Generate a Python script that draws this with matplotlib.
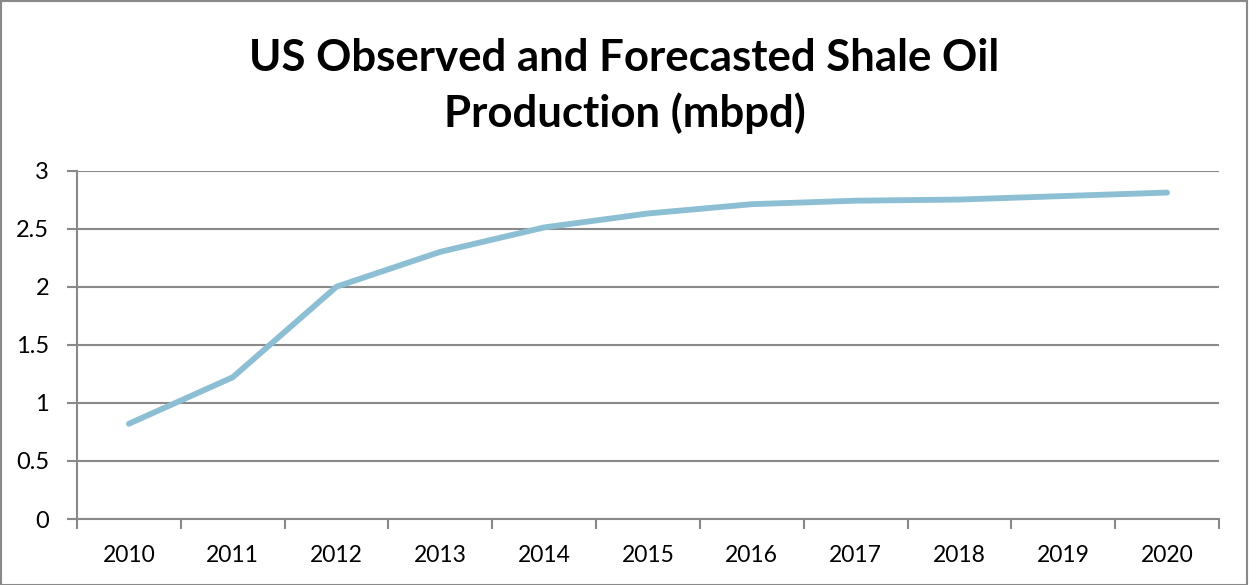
import matplotlib.pyplot as plt
from matplotlib.patches import Rectangle
from matplotlib.ticker import FixedLocator, NullFormatter

years = ["2010", "2011", "2012", "2013", "2014", "2015",
         "2016", "2017", "2018", "2019", "2020"]
production = [0.82, 1.22, 2.00, 2.30, 2.51, 2.63, 2.71, 2.74, 2.75, 2.78, 2.81]
y_ticks = [0, 0.5, 1, 1.5, 2, 2.5, 3]
y_labels = ["0", "0.5", "1", "1.5", "2", "2.5", "3"]

plt.rcParams["font.family"] = ["Lato", "DejaVu Sans"]
grey = "#898989"

fig = plt.figure(figsize=(12.49, 5.85), dpi=100)
ax = fig.add_axes([77 / 1249, 1 - 519 / 585, (1219 - 77) / 1249, (519 - 170.5) / 585])

x = list(range(len(years)))
ax.plot(x, production, color="#8CBFD3", linewidth=4.2,
        solid_capstyle="round", solid_joinstyle="round", zorder=3)

ax.set_xlim(-0.5, len(years) - 0.5)
ax.set_ylim(0, 3)

# category boundaries get the tick marks, labels sit in the middle
ax.xaxis.set_major_locator(FixedLocator([i - 0.5 for i in range(len(years) + 1)]))
ax.xaxis.set_major_formatter(NullFormatter())
ax.xaxis.set_minor_locator(FixedLocator(x))
ax.set_xticklabels(years, minor=True)
ax.tick_params(axis="x", which="major", length=7, width=1.5, color=grey, direction="out")
ax.tick_params(axis="x", which="minor", length=0, pad=19, labelsize=16.5)

ax.set_yticks(y_ticks)
ax.set_yticklabels(y_labels)
ax.tick_params(axis="y", length=7, width=1.5, color=grey, pad=13, labelsize=17)

ax.grid(axis="y", color=grey, linewidth=1.5)
ax.set_axisbelow(True)
for side in ["top", "right"]:
    ax.spines[side].set_visible(False)
for side in ["left", "bottom"]:
    ax.spines[side].set_color(grey)
    ax.spines[side].set_linewidth(1.5)

fig.text(0.5, 0.853, "US Observed and Forecasted Shale Oil\nProduction (mbpd)",
         ha="center", va="center", fontsize=31.5, fontweight="bold",
         linespacing=1.4)

fig.patches.append(Rectangle((0.001, 0.0), 0.997, 0.998, transform=fig.transFigure,
                             fill=False, edgecolor=grey, linewidth=1.5))

fig.savefig("out.png", dpi=100)
